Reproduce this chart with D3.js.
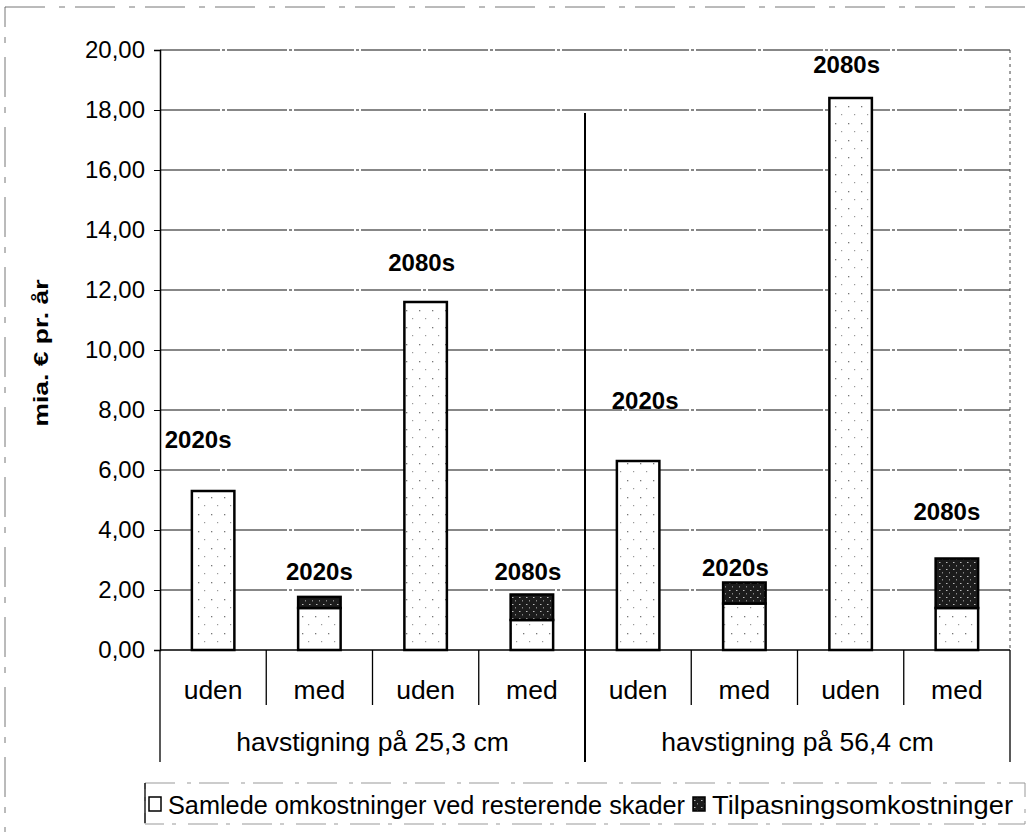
<!DOCTYPE html>
<html>
<head>
<meta charset="utf-8">
<script src="https://cdn.jsdelivr.net/npm/d3@7"></script>
<style>
  body { margin: 0; background: #fff; }
  svg { font-family: "Liberation Sans", Arial, sans-serif; }
</style>
</head>
<body>
<svg id="chart" width="1027" height="832"></svg>
<script>
// chart values
const groups = ["havstigning på 25,3 cm", "havstigning på 56,4 cm"];
const scenarios = ["uden", "med", "uden", "med", "uden", "med", "uden", "med"];
const periods = ["2020s", "2020s", "2080s", "2080s", "2020s", "2020s", "2080s", "2080s"];
const residual = [5.3, 1.4, 11.6, 1.0, 6.3, 1.55, 18.4, 1.4];
const adaptation = [0, 0.37, 0, 0.85, 0, 0.7, 0, 1.65];
const yTicks = [0, 2, 4, 6, 8, 10, 12, 14, 16, 18, 20];
const seriesNames = ["Samlede omkostninger ved resterende skader", "Tilpasningsomkostninger"];

// where the period labels sit (value units) and their sideways nudge
const labelLevel = [7.0, 2.6, 12.9, 2.6, 8.3, 2.75, 19.5, 4.6];
const labelNudge = [-15, 0, -4, -4, 7, -9, -4, -10];

const svg = d3.select("#chart");
const margin = { left: 160, right: 1010, top: 50, bottom: 650 };

const keys = scenarios.map((s, i) => i);
const x = d3.scaleBand().domain(keys).range([margin.left, margin.right]).paddingInner(0.6).paddingOuter(0.3);
const slot = (margin.right - margin.left) / keys.length;
const slotCenter = i => margin.left + slot * (i + 0.5);
const y = d3.scaleLinear().domain([0, 20]).range([margin.bottom, margin.top]);

const locale = d3.formatLocale({ decimal: ",", thousands: ".", grouping: [3], currency: ["", " €"] });
const fmt = locale.format(".2f");

// textures for the bars
const defs = svg.append("defs");
const light = defs.append("pattern").attr("id", "light").attr("width", 13).attr("height", 17)
  .attr("patternUnits", "userSpaceOnUse");
light.append("rect").attr("width", 13).attr("height", 17).attr("fill", "#fff");
light.append("rect").attr("x", 3).attr("y", 4).attr("width", 1.3).attr("height", 1.3).attr("fill", "#777");
light.append("rect").attr("x", 9).attr("y", 12).attr("width", 1.2).attr("height", 1.2).attr("fill", "#999");
const dark = defs.append("pattern").attr("id", "dark").attr("width", 7).attr("height", 7)
  .attr("patternUnits", "userSpaceOnUse");
dark.append("rect").attr("width", 7).attr("height", 7).attr("fill", "#1c1c1c");
dark.append("rect").attr("x", 1).attr("y", 2).attr("width", 1.5).attr("height", 1).attr("fill", "#bbb");
dark.append("rect").attr("x", 4).attr("y", 5).attr("width", 1).attr("height", 1.5).attr("fill", "#888");

// outer scanned frame
svg.append("rect").attr("x", 5).attr("y", 7).attr("width", 1040).attr("height", 860)
  .attr("fill", "none").attr("stroke", "#777").attr("stroke-width", 1)
  .attr("stroke-dasharray", "40,14,6,10");

// gridlines
svg.append("g").selectAll("line").data(yTicks.filter(d => d > 0)).enter().append("line")
  .attr("x1", margin.left).attr("x2", margin.right)
  .attr("y1", d => y(d)).attr("y2", d => y(d))
  .attr("stroke", "#111").attr("stroke-width", 1.1).attr("stroke-dasharray", "60,2,3,2");
svg.append("line").attr("x1", margin.right).attr("x2", margin.right)
  .attr("y1", margin.top).attr("y2", margin.bottom)
  .attr("stroke", "#444").attr("stroke-width", 1).attr("stroke-dasharray", "3,4");

// y axis
const yAxis = d3.axisLeft(y).tickValues(yTicks).tickFormat(fmt).tickSize(6).tickPadding(9);
const gy = svg.append("g").attr("transform", `translate(${margin.left},0)`).call(yAxis);
gy.select(".domain").attr("stroke", "#000").attr("stroke-width", 1.5);
gy.selectAll(".tick line").attr("stroke", "#000");
gy.selectAll(".tick text").attr("font-size", 24).attr("fill", "#000");

svg.append("text")
  .attr("transform", `translate(48,353) rotate(-90)`)
  .attr("text-anchor", "middle").attr("font-weight", "bold").attr("font-size", 21)
  .attr("textLength", 147).attr("lengthAdjust", "spacingAndGlyphs")
  .text("mia. € pr. år");

// bars
const bars = svg.append("g");
bars.selectAll("rect.res").data(keys).enter().append("rect").attr("class", "res")
  .attr("x", i => x(i)).attr("width", x.bandwidth())
  .attr("y", i => y(residual[i])).attr("height", i => y(0) - y(residual[i]))
  .attr("fill", "url(#light)").attr("stroke", "#000").attr("stroke-width", 2.5);
bars.selectAll("rect.adp").data(keys.filter(i => adaptation[i] > 0)).enter().append("rect").attr("class", "adp")
  .attr("x", i => x(i)).attr("width", x.bandwidth())
  .attr("y", i => y(residual[i] + adaptation[i])).attr("height", i => y(residual[i]) - y(residual[i] + adaptation[i]))
  .attr("fill", "url(#dark)").attr("stroke", "#000").attr("stroke-width", 2.5);

// baseline
svg.append("line").attr("x1", margin.left).attr("x2", margin.right)
  .attr("y1", y(0)).attr("y2", y(0)).attr("stroke", "#000").attr("stroke-width", 1.5);

// period labels
svg.append("g").selectAll("text").data(keys).enter().append("text")
  .attr("x", i => slotCenter(i) + labelNudge[i])
  .attr("y", i => y(labelLevel[i]))
  .attr("dy", "0.35em").attr("text-anchor", "middle")
  .attr("font-weight", "bold").attr("font-size", 24)
  .text(i => periods[i]);

// category axis: separators
const catBottom = 705, groupBottom = 762;
const sep = svg.append("g").attr("stroke", "#000").attr("stroke-width", 1.3);
d3.range(1, keys.length).filter(k => k !== 4).forEach(k => {
  sep.append("line").attr("x1", margin.left + slot * k).attr("x2", margin.left + slot * k)
    .attr("y1", y(0)).attr("y2", catBottom);
});
[0, 8].forEach(k => {
  sep.append("line").attr("x1", margin.left + slot * k).attr("x2", margin.left + slot * k)
    .attr("y1", y(0)).attr("y2", groupBottom);
});
sep.append("line").attr("x1", margin.left + slot * 4).attr("x2", margin.left + slot * 4)
  .attr("y1", y(17.9)).attr("y2", groupBottom).attr("stroke-width", 2);

svg.append("g").selectAll("text").data(keys).enter().append("text")
  .attr("x", i => slotCenter(i)).attr("y", 690).attr("dy", "0.35em")
  .attr("text-anchor", "middle").attr("font-size", 26.5)
  .text(i => scenarios[i]);

svg.append("g").selectAll("text").data(groups).enter().append("text")
  .attr("x", (g, j) => margin.left + slot * (4 * j + 2)).attr("y", 742).attr("dy", "0.35em")
  .attr("text-anchor", "middle").attr("font-size", 26.5)
  .text(g => g);

// legend
const lg = svg.append("g");
lg.append("rect").attr("x", 145).attr("y", 783).attr("width", 880).attr("height", 41)
  .attr("fill", "none").attr("stroke", "#999").attr("stroke-dasharray", "30,12,4,8");
lg.append("line").attr("x1", 145).attr("x2", 145).attr("y1", 783).attr("y2", 823)
  .attr("stroke", "#000").attr("stroke-width", 1.3);
lg.append("rect").attr("x", 149).attr("y", 797).attr("width", 12).attr("height", 14)
  .attr("fill", "#fff").attr("stroke", "#000").attr("stroke-width", 1.5);
lg.append("text").attr("x", 168).attr("y", 805).attr("dy", "0.35em").attr("font-size", 25)
  .attr("textLength", 517).attr("lengthAdjust", "spacingAndGlyphs").text(seriesNames[0]);
lg.append("rect").attr("x", 693).attr("y", 797).attr("width", 12).attr("height", 14)
  .attr("fill", "url(#dark)").attr("stroke", "#000").attr("stroke-width", 1.5);
lg.append("text").attr("x", 712).attr("y", 805).attr("dy", "0.35em").attr("font-size", 25)
  .attr("textLength", 301).attr("lengthAdjust", "spacingAndGlyphs").text(seriesNames[1]);
</script>
</body>
</html>
